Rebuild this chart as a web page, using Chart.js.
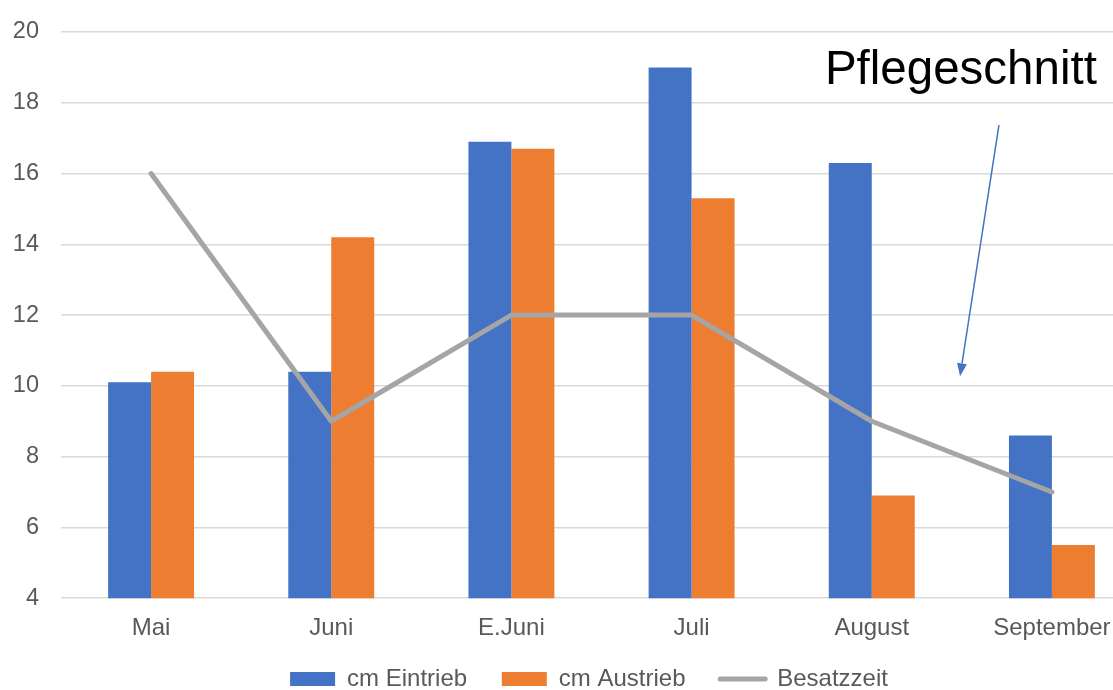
<!DOCTYPE html>
<html>
<head>
<meta charset="utf-8">
<script src="https://cdn.jsdelivr.net/npm/chart.js@4/dist/chart.umd.min.js"></script>
<style>
  html, body { margin: 0; padding: 0; background: #fff; overflow: hidden; }
  #wrap { width: 1113px; height: 690px; overflow: hidden; }
  canvas { display: block; }
</style>
</head>
<body>
<div id="wrap"><canvas id="chart" width="1210" height="701" style="width:1210px;height:701px"></canvas></div>
<script>
// Daten
const monate = ['Mai', 'Juni', 'E.Juni', 'Juli', 'August', 'September'];
const eintrieb = [10.1, 10.4, 16.9, 19.0, 16.3, 8.6];
const austrieb = [10.4, 14.2, 16.7, 15.3, 6.9, 5.5];
const besatzzeit = [16, 9, 12, 12, 9, 7];
const yTicks = [4, 6, 8, 10, 12, 14, 16, 18, 20];

const FONT = "'Liberation Sans', Arial, sans-serif";
const GREY_TEXT = '#595959';

// Beschriftung "Pflegeschnitt" mit Pfeil
const pflegeschnitt = {
    id: 'pflegeschnitt',
    afterDraw(chart) {
        const { ctx, scales: { x, y } } = chart;
        ctx.save();
        ctx.fillStyle = '#000';
        ctx.font = '47.5px ' + FONT;
        ctx.textBaseline = 'alphabetic';
        ctx.fillText('Pflegeschnitt', x.getPixelForValue(3.74), y.getPixelForValue(18.53));

        const x1 = x.getPixelForValue(4.706), y1 = y.getPixelForValue(17.37);
        const x2 = x.getPixelForValue(4.49), y2 = y.getPixelForValue(10.27);
        const ang = Math.atan2(y2 - y1, x2 - x1);
        const len = 13, half = 5;
        ctx.strokeStyle = '#4472C4';
        ctx.fillStyle = '#4472C4';
        ctx.lineWidth = 1.5;
        ctx.beginPath();
        ctx.moveTo(x1, y1);
        ctx.lineTo(x2 - Math.cos(ang) * len, y2 - Math.sin(ang) * len);
        ctx.stroke();
        ctx.beginPath();
        ctx.moveTo(x2, y2);
        ctx.lineTo(x2 - Math.cos(ang) * len - Math.sin(ang) * half, y2 - Math.sin(ang) * len + Math.cos(ang) * half);
        ctx.lineTo(x2 - Math.cos(ang) * len + Math.sin(ang) * half, y2 - Math.sin(ang) * len - Math.cos(ang) * half);
        ctx.closePath();
        ctx.fill();
        ctx.restore();
    }
};

// Legende etwas nach rechts schieben (Mitte des Originaldiagramms)
const legendVersatz = {
    id: 'legendVersatz',
    afterLayout(chart) {
        if (chart.legend) {
            chart.legend.left += 18;
            chart.legend.right += 18;
        }
    }
};

// Legendenabstand: Leerzeichen hinter den ersten Einträgen
const gap = '    ';

const ctx = document.getElementById('chart').getContext('2d');
new Chart(ctx, {
    type: 'bar',
    data: {
        labels: monate,
        datasets: [
            {
                label: 'cm Eintrieb',
                data: eintrieb,
                backgroundColor: '#4472C4',
                borderWidth: 0,
                order: 1
            },
            {
                label: 'cm Austrieb',
                data: austrieb,
                backgroundColor: '#ED7D31',
                borderWidth: 0,
                order: 1
            },
            {
                type: 'line',
                label: 'Besatzzeit',
                data: besatzzeit,
                borderColor: '#A5A5A5',
                backgroundColor: '#A5A5A5',
                borderWidth: 5,
                borderCapStyle: 'round',
                borderJoinStyle: 'round',
                pointRadius: 0,
                tension: 0,
                order: 0
            }
        ]
    },
    options: {
        responsive: false,
        devicePixelRatio: 1,
        animation: false,
        layout: { padding: { top: 32, right: 68, bottom: 0, left: 0 } },
        datasets: {
            bar: { barPercentage: 1, categoryPercentage: 0.477 }
        },
        scales: {
            x: {
                grid: { display: false, drawTicks: false },
                border: { display: false },
                ticks: { color: GREY_TEXT, font: { family: FONT, size: 24 }, padding: 16, maxRotation: 0 }
            },
            y: {
                min: 4,
                max: 20,
                afterBuildTicks(scale) { scale.ticks = yTicks.map(v => ({ value: v })); },
                grid: { color: '#D9D9D9', lineWidth: 1.5, drawTicks: false },
                border: { display: false },
                ticks: { color: GREY_TEXT, font: { family: FONT, size: 23.5 }, padding: 22 },
                afterFit(scale) {
                    scale.width = 61;
                    scale.paddingTop = 0;
                    scale.paddingBottom = 0;
                }
            }
        },
        plugins: {
            tooltip: { enabled: false },
            legend: {
                position: 'bottom',
                labels: {
                    color: GREY_TEXT,
                    font: { family: FONT, size: 24 },
                    padding: 8,
                    usePointStyle: true,
                    pointStyleWidth: 45,
                    boxWidth: 45,
                    boxHeight: 14,
                    generateLabels(chart) {
                        const n = chart.data.datasets.length;
                        return chart.data.datasets.map((ds, i) => ({
                            text: i < n - 1 ? ds.label + gap : ds.label,
                            fillStyle: ds.backgroundColor,
                            strokeStyle: ds.type === 'line' ? ds.borderColor : ds.backgroundColor,
                            lineWidth: ds.type === 'line' ? 5 : 0,
                            lineCap: 'round',
                            pointStyle: ds.type === 'line' ? 'line' : 'rect',
                            fontColor: GREY_TEXT,
                            hidden: false,
                            datasetIndex: i
                        }));
                    }
                }
            }
        }
    },
    plugins: [pflegeschnitt, legendVersatz]
});
</script>
</body>
</html>
